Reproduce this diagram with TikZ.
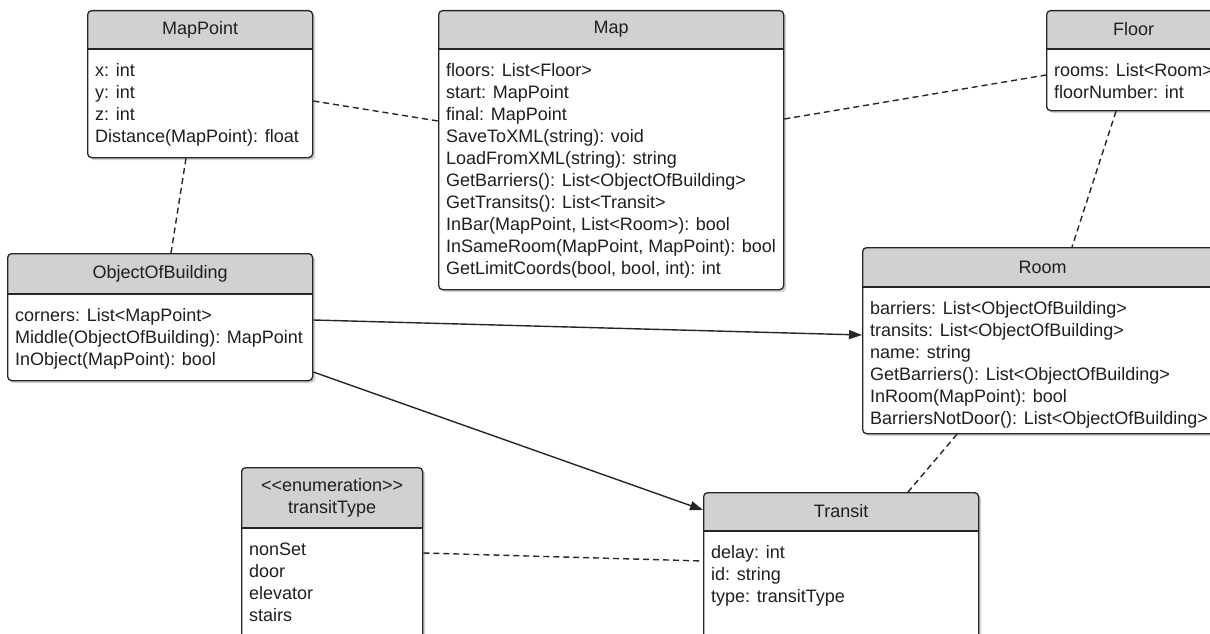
\documentclass[tikz,border=0pt]{standalone}
\usepackage{fontspec}
\newfontfamily\umlfont{Liberation Sans}
\usetikzlibrary{arrows.meta,shadows}
\definecolor{headgray}{RGB}{209,209,209}
\definecolor{boxline}{RGB}{38,38,38}
\newcommand*{\umltextstyle}{\umlfont\fontsize{18}{22}\selectfont\color{black!88}}
\newcommand{\umlclass}[8]{%
% node name, left, top, width, height, header height, title, members
  \pgfmathsetmacro{\cleft}{#2}
  \pgfmathsetmacro{\ctop}{#3}
  \pgfmathsetmacro{\hh}{#6}
  \node[classbox, minimum width = #4pt, minimum height = #5pt,
    path picture = {\fill[headgray] (path picture bounding box.north west)
      rectangle ([yshift = {-\hh*1pt}]path picture bounding box.north east);}]
    (#1) at (\cleft,\ctop) {};
  \draw[boxline, line width = 1.5pt] ([yshift = {-\hh*1pt}]#1.north west)
    -- ([yshift = {-\hh*1pt}]#1.north east);
  \node[titletext] (#1-title) at ([yshift = {-\hh/2*1pt}]#1.north) {#7};
  \foreach \m [count = \i] in {#8} {
    \node[membertext] (#1-\i)
      at ([xshift = 8pt, yshift = {-(\hh+5.5+22*\i)*1pt}]#1.north west) {\m};
  }
}

\begin{document}
\begin{tikzpicture}[x = 1pt, y = -1pt,
    classbox/.style = {draw = boxline, line width = 1.3pt, fill = white,
      rounded corners = 4pt, anchor = north west, inner sep = 0pt,
      drop shadow = {shadow xshift = 2.5pt, shadow yshift = -2.5pt,
        opacity = 0.18, fill = black}},
    titletext/.style = {font = \umltextstyle, align = center, inner sep = 0pt},
    membertext/.style = {font = \umltextstyle, anchor = base west, inner sep = 0pt},
    dep/.style = {boxline, line width = 1.4pt, dash pattern = on 6pt off 4pt},
    assoc/.style = {boxline, line width = 1.4pt,
      -{Triangle[length = 13pt, width = 9pt]}}]
  \useasboundingbox (0,0) rectangle (1210,634);
  \clip (0,0) rectangle (1210,634);

  \umlclass{mappoint}{87}{10}{225}{147}{39}{MapPoint}{x: int, y: int, z: int,
    Distance(MapPoint): float}
  \umlclass{map}{438}{10}{345}{279}{39}{Map}{floors: List<Floor>,
    start: MapPoint, final: MapPoint, SaveToXML(string): void,
    LoadFromXML(string): string, GetBarriers(): List<ObjectOfBuilding>,
    GetTransits(): List<Transit>, {InBar(MapPoint, List<Room>): bool},
    {InSameRoom(MapPoint, MapPoint): bool},
    {GetLimitCoords(bool, bool, int): int}}
  \umlclass{floor}{1046}{10}{174}{100}{39}{Floor}{rooms: List<Room>,
    floorNumber: int}
  \umlclass{oob}{7}{253}{305}{127}{41}{ObjectOfBuilding}{corners: List<MapPoint>,
    Middle(ObjectOfBuilding): MapPoint, InObject(MapPoint): bool}
  \umlclass{room}{862}{247}{360}{186}{40}{Room}{barriers: List<ObjectOfBuilding>,
    transits: List<ObjectOfBuilding>, name: string,
    GetBarriers(): List<ObjectOfBuilding>, InRoom(MapPoint): bool,
    BarriersNotDoor(): List<ObjectOfBuilding>}
  \umlclass{ttype}{241}{467}{181}{180}{61}{<<enumeration>>\\transitType}{nonSet,
    door, elevator, stairs}
  \umlclass{transit}{703}{492}{275}{155}{39}{Transit}{delay: int, id: string,
    type: transitType}

  % connector ends
  \coordinate (mappoint-e) at ([yshift = -91pt]mappoint.north east);
  \coordinate (mappoint-s) at ([xshift = 99pt]mappoint.south west);
  \coordinate (map-w) at ([yshift = -111pt]map.north west);
  \coordinate (map-e) at ([yshift = -109pt]map.north east);
  \coordinate (floor-w) at ([yshift = -65pt]floor.north west);
  \coordinate (floor-s) at ([xshift = 70pt]floor.south west);
  \coordinate (oob-n) at ([xshift = 164pt]oob.north west);
  \coordinate (oob-e1) at ([yshift = -67pt]oob.north east);
  \coordinate (oob-e2) at ([yshift = -119pt]oob.north east);
  \coordinate (room-n) at ([xshift = 210pt]room.north west);
  \coordinate (room-w) at ([yshift = -88pt]room.north west);
  \coordinate (room-s) at ([xshift = 95pt]room.south west);
  \coordinate (ttype-e) at ([yshift = -86pt]ttype.north east);
  \coordinate (transit-n) at ([xshift = 205pt]transit.north west);
  \coordinate (transit-w1) at ([yshift = -18pt]transit.north west);
  \coordinate (transit-w2) at ([yshift = -69pt]transit.north west);

  \draw[dep] (mappoint-e) -- (map-w);
  \draw[dep] (map-e) -- (floor-w);
  \draw[dep] (mappoint-s) -- (oob-n);
  \draw[dep] (floor-s) -- (room-n);
  \draw[dep] (room-s) -- (transit-n);
  \draw[dep] (ttype-e) -- (transit-w2);
  \draw[assoc] (oob-e1) -- (room-w);
  \draw[assoc] (oob-e2) -- (transit-w1);

\end{tikzpicture}
\end{document}
